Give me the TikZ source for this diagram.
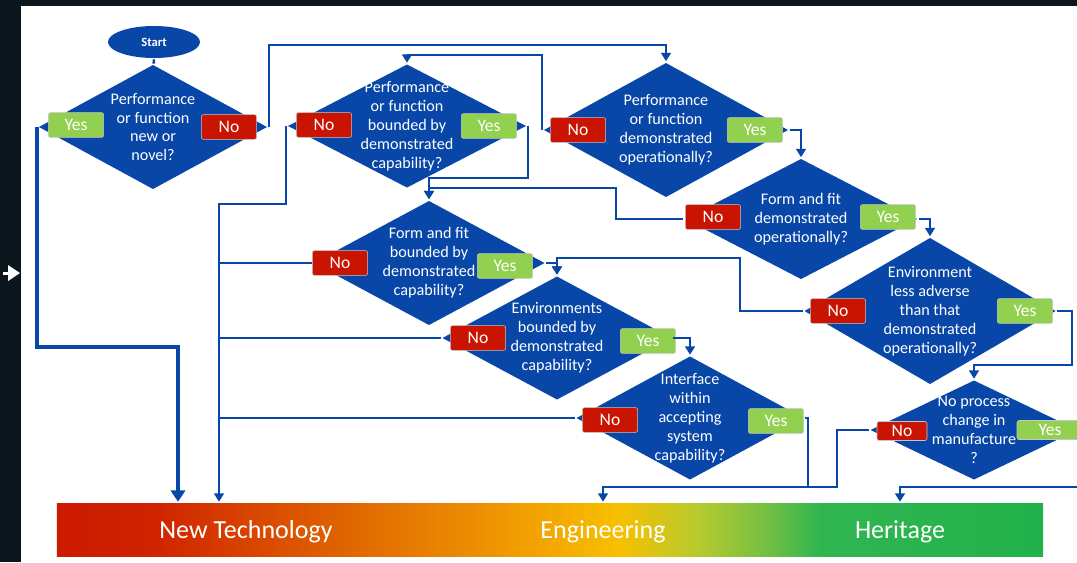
\documentclass[tikz,border=0pt]{standalone}
\usepackage{fontspec}
\setmainfont{Carlito}
\usetikzlibrary{arrows.meta,shapes.geometric}

\definecolor{slide}{HTML}{0C171D}
\definecolor{flowblue}{HTML}{0847A8}
\definecolor{yesgreen}{HTML}{92D050}
\definecolor{nored}{HTML}{C81400}
\definecolor{barA}{HTML}{CC1A00}
\definecolor{barB}{HTML}{D02400}
\definecolor{barC}{HTML}{E06800}
\definecolor{barD}{HTML}{EF9600}
\definecolor{barE}{HTML}{F8C000}
\definecolor{barF}{HTML}{B4CA30}
\definecolor{barG}{HTML}{7CC040}
\definecolor{barH}{HTML}{30B650}
\definecolor{barI}{HTML}{22B14C}
\pgfdeclarehorizontalshading{techbar}{100bp}{color(0bp)=(barA); color(25bp)=(barA);
  color(30bp)=(barB); color(40bp)=(barC); color(47.5bp)=(barD); color(53.5bp)=(barE);
  color(57.6bp)=(barF); color(60.6bp)=(barG); color(63.7bp)=(barH); color(75bp)=(barI);
  color(100bp)=(barI)}

\begin{document}
\begin{tikzpicture}[x=0.025cm,y=-0.025cm,>={Triangle[width=7pt,length=6pt]},
                    line width=1.8pt]
  \tikzstyle{quest}=[diamond,fill=flowblue,inner sep=0pt]
  \tikzstyle{qtext}=[text=white,align=center,font=\fontsize{11.5}{13.5}\selectfont]
  \tikzstyle{yesbox}=[fill=yesgreen,text=white,minimum width=1.38cm,minimum height=0.62cm,
                      inner sep=0pt,rounded corners=1.5pt,draw=gray!45,line width=0.4pt,
                      font=\fontsize{12.5}{14}\selectfont]
  \tikzstyle{nobox}=[yesbox,fill=nored]
  \tikzstyle{bartext}=[text=white,font=\fontsize{18.5}{20}\selectfont]
  \tikzstyle{flow}=[draw=flowblue,->]
  \tikzstyle{trunk}=[draw=flowblue]

  \useasboundingbox (0,0) rectangle (1077,562);
  \clip (0,0) rectangle (1077,562);
  \fill[slide] (0,0) rectangle (1077,562);
  \fill[white] (21,6) rectangle (1077,562);
  \fill[white] (3,271.5) rectangle (10,274.5);
  \fill[white] (8,265) -- (20,273) -- (8,281) -- cycle;

  \node[ellipse,fill=flowblue,text=white,minimum width=2.3cm,minimum height=0.8cm,inner sep=0pt,
        font=\bfseries\fontsize{9}{10}\selectfont] (start) at (154,42) {Start};

  \node[quest,minimum width=5.725cm,minimum height=3.125cm,
        label={[qtext]center:{Performance\\or function\\new or\\novel?}}] (q1) at (153,127) {};
  \node[quest,minimum width=5.975cm,minimum height=3.1cm,
        label={[qtext]center:{Performance\\or function\\bounded by\\demonstrated\\capability?}}] (q2) at (407,126) {};
  \node[quest,minimum width=6.125cm,minimum height=3.375cm,
        label={[qtext]center:{Performance\\or function\\demonstrated\\operationally?}}] (q3) at (666,130) {};
  \node[quest,minimum width=5.825cm,minimum height=3.025cm,
        label={[qtext]center:{Form and fit\\demonstrated\\operationally?}}] (q4) at (801,219) {};
  \node[quest,minimum width=6.3cm,minimum height=3.675cm,
        label={[qtext]center:{Environment\\less adverse\\than that\\demonstrated\\operationally?}}] (q5) at (930,311) {};
  \node[quest,minimum width=5.8cm,minimum height=3.125cm,
        label={[qtext]center:{Form and fit\\bounded by\\demonstrated\\capability?}}] (q6) at (429,263) {};
  \node[quest,minimum width=5.75cm,minimum height=3.1cm,
        label={[qtext]center:{Environments\\bounded by\\demonstrated\\capability?}}] (q7) at (557,338) {};
  \node[quest,minimum width=5.7cm,minimum height=3.1cm,
        label={[qtext]center:{Interface\\within\\accepting\\system\\capability?}}] (q8) at (690,418) {};
  \node[quest,minimum width=5.2cm,minimum height=2.5cm,
        label={[qtext]center:{No process\\change in\\manufacture\\?}}] (q9) at (974,430) {};

  \node[yesbox] (y1) at (76,125) {Yes};
  \node[nobox]  (n1) at (229,127) {No};
  \node[nobox]  (n2) at (324,125) {No};
  \node[yesbox] (y2) at (489,126) {Yes};
  \node[nobox]  (n3) at (578,130) {No};
  \node[yesbox] (y3) at (755,130) {Yes};
  \node[nobox]  (n4) at (713,217) {No};
  \node[yesbox] (y4) at (888,217) {Yes};
  \node[nobox]  (n5) at (838,311) {No};
  \node[yesbox] (y5) at (1025,311) {Yes};
  \node[nobox]  (n6) at (340,263) {No};
  \node[yesbox] (y6) at (505,266) {Yes};
  \node[nobox]  (n7) at (478,338) {No};
  \node[yesbox] (y7) at (648,341) {Yes};
  \node[nobox]  (n8) at (610,420) {No};
  \node[yesbox] (y8) at (776,421) {Yes};
  \node[nobox,minimum width=1.25cm,minimum height=0.475cm]  (n9) at (902,431) {No};
  \node[yesbox,minimum width=1.65cm,minimum height=0.475cm] (y9) at (1050,430) {Yes};

  \node[shading=techbar,minimum width=24.65cm,minimum height=1.325cm,inner sep=0pt] (bar) at (550,529.5) {};
  \node[bartext] (newtech) at (246,532) {New Technology};
  \node[bartext] (engin)   at (603,532) {Engineering};
  \node[bartext] (herit)   at (900,532) {Heritage};

  \draw[trunk] (start) -- (q1);
  \draw[flow,line width=2.7pt,>={Triangle[width=10pt,length=8pt]}]
    (q1.west) |- (178,347) -- (178,347 |- bar.north);
  \draw[flow] (q1.east) |- (q3.north |- 0,45) -- (q3.north);
  \draw[flow] (q3.west) |- (q2.north |- 0,55) -- (q2.north);
  \draw[flow] (q2.west) |- (219,204) -- (219,204 |- bar.north);
  \draw[flow] (q2.east) |- (q6.north |- 0,178) -- (q6.north);
  \draw[flow] (q3.east) -| (q4.north);
  \draw[flow] (q4.west) -| (616,188) -| (q6.north);
  \draw[flow] (q4.east) -| (q5.north);
  \draw[flow] (q5.west) -| (740,258) -| (q7.north);
  \draw[flow] (q6.east) -| (q7.north);
  \draw[trunk] (q6.west) -- (q6.west -| 219,0);
  \draw[trunk] (q7.west) -- (q7.west -| 219,0);
  \draw[trunk] (q8.west) -- (q8.west -| 219,0);
  \draw[flow] (q7.east) -| (q8.north);
  \draw[flow] (q8.east) -| (808,487) -| (engin |- bar.north);
  \draw[trunk] (q9.west) -| (837,487) -- (808,487);
  \draw[flow] (q5.east) -| (1072,365) -| (q9.north);
  \draw[flow] (q9.east) -| (1090,487) -| (herit |- bar.north);
\end{tikzpicture}
\end{document}
